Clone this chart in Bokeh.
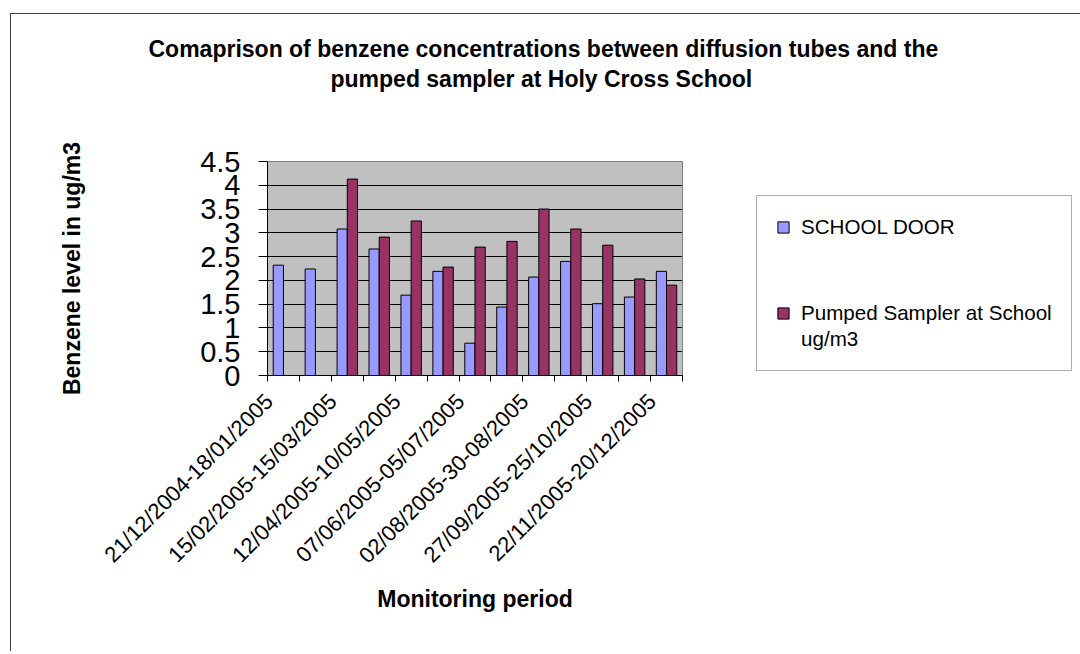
import math
from bokeh.plotting import figure
from bokeh.models import (Range1d, FixedTicker, ColumnDataSource, Title, Legend,
                          LegendItem, LinearAxis)
from bokeh.embed import file_html
from bokeh.resources import INLINE

# ---- data ----
periods = [
    "21/12/2004-18/01/2005", "18/01/2005-15/02/2005", "15/02/2005-15/03/2005",
    "15/03/2005-12/04/2005", "12/04/2005-10/05/2005", "10/05/2005-07/06/2005",
    "07/06/2005-05/07/2005", "05/07/2005-02/08/2005", "02/08/2005-30-08/2005",
    "30/08/2005-27/09/2005", "27/09/2005-25/10/2005", "25/10/2005-22/11/2005",
    "22/11/2005-20/12/2005",
]
school_door = [2.32, 2.24, 3.08, 2.66, 1.69, 2.19, 0.68, 1.44, 2.07, 2.40, 1.51, 1.65, 2.19]
pumped = [None, None, 4.13, 2.91, 3.25, 2.28, 2.70, 2.82, 3.50, 3.08, 2.74, 2.03, 1.90]
y_ticks = [0, 0.5, 1, 1.5, 2, 2.5, 3, 3.5, 4, 4.5]
y_tick_labels = ["0", "0.5", "1", "1.5", "2", "2.5", "3", "3.5", "4", "4.5"]
series_names = ["SCHOOL DOOR", "Pumped Sampler at School", "ug/m3"]
title_lines = ["Comaprison of benzene concentrations between diffusion tubes and the",
               "pumped sampler at Holy Cross School"]

FONT = "Liberation Sans"
BLUE = "#9999FF"
RED = "#993366"

# canvas origin on the page (after margin + 1px border)
OX, OY = 11, 14
# frame position on the page
FL, FR, FT, FB = 267, 682, 161, 375

p = figure(frame_width=FR - FL, frame_height=FB - FT,
           output_backend="svg", toolbar_location=None,
           x_range=Range1d(0.5, len(periods) + 0.5), y_range=Range1d(0, 4.5),
           min_border_left=FL - OX, min_border_right=396,
           min_border_top=FT - OY, min_border_bottom=276)
p.margin = (OY - 1, 0, 0, OX - 1)
p.styles = {"border-left": "1px solid #404040", "border-top": "1px solid #404040"}
p.background_fill_color = "#C0C0C0"
p.border_fill_color = "white"
p.outline_line_color = "#808080"
p.outline_line_width = 1
p.xgrid.grid_line_color = None
p.ygrid.grid_line_color = "black"
p.ygrid.grid_line_width = 1
p.ygrid.ticker = FixedTicker(ticks=y_ticks)

xs = list(range(1, len(periods) + 1))
src_a = ColumnDataSource(dict(x=[x - 0.16 for x in xs], top=school_door))
px = [x + 0.16 for x, v in zip(xs, pumped) if v is not None]
pv = [v for v in pumped if v is not None]
src_b = ColumnDataSource(dict(x=px, top=pv))
r_a = p.vbar(x="x", top="top", bottom=0, width=0.32, source=src_a,
             fill_color=BLUE, line_color="black", line_width=1)
r_b = p.vbar(x="x", top="top", bottom=0, width=0.32, source=src_b,
             fill_color=RED, line_color="black", line_width=1)

# y axis
ya = p.yaxis[0]
ya.ticker = FixedTicker(ticks=y_ticks)
ya.major_label_overrides = {t: l for t, l in zip(y_ticks, y_tick_labels)}
ya.major_label_text_font = FONT
ya.major_label_text_font_size = "29px"
ya.major_label_text_color = "black"
ya.major_label_standoff = 18
ya.major_tick_out = 9
ya.major_tick_in = 0
ya.minor_tick_line_color = None
ya.axis_line_color = "black"
ya.major_tick_line_color = "black"
ya.axis_label = "Benzene level in ug/m3"
ya.axis_label_text_font = FONT
ya.axis_label_text_font_style = "bold"
ya.axis_label_text_font_size = "23px"
ya.axis_label_text_color = "black"
ya.axis_label_standoff = 112

# x axis: labels on every other category, ticks at category boundaries
LABEL_SHIFT = -0.45
xa = p.xaxis[0]
shown = xs[::2]
label_pos = [x + LABEL_SHIFT for x in shown]
xa.ticker = FixedTicker(ticks=label_pos,
                        minor_ticks=[x - 0.5 for x in xs] + [xs[-1] + 0.5])
xa.major_label_overrides = {lp: periods[x - 1] for lp, x in zip(label_pos, shown)}
xa.major_label_orientation = math.pi / 4
xa.major_label_text_font = FONT
xa.major_label_text_font_size = "22px"
xa.major_label_text_color = "black"
xa.major_tick_line_color = None
xa.major_tick_out = 0
xa.major_tick_in = 0
xa.major_label_standoff = 16
xa.minor_tick_line_color = "black"
xa.minor_tick_out = 6
xa.minor_tick_in = 0
xa.axis_line_color = "black"
xa.axis_label = "Monitoring period"
xa.axis_label_text_font = FONT
xa.axis_label_text_font_style = "bold"
xa.axis_label_text_font_size = "23px"
xa.axis_label_text_color = "black"
xa.axis_label_standoff = 6

# title: an invisible spacer axis next to the frame, then line 2, then line 1
p.title.text = ""
mid = (len(periods) + 1) / 2
spacer = LinearAxis(ticker=FixedTicker(ticks=[mid]), axis_line_color=None,
                    major_tick_line_color=None, minor_tick_line_color=None,
                    major_tick_out=70, major_tick_in=0, minor_tick_out=0,
                    major_label_standoff=0, major_label_overrides={mid: ""},
                    major_label_text_font_size="1px")
p.add_layout(spacer, "above")
p.add_layout(Title(text=title_lines[1], align="left", offset=63, standoff=0,
                   text_font=FONT, text_font_size="23px", text_font_style="bold",
                   text_color="black"), "above")
p.add_layout(Title(text=title_lines[0], align="left", offset=-119, standoff=4,
                   text_font=FONT, text_font_size="23px", text_font_style="bold",
                   text_color="black"), "above")

# legend (blank rows reproduce the tall gap between the two entries)
items = [
    LegendItem(label=series_names[0], renderers=[r_a]),
    LegendItem(label=" ", renderers=[]),
    LegendItem(label=" ", renderers=[]),
    LegendItem(label=" ", renderers=[]),
    LegendItem(label=series_names[1], renderers=[r_b]),
    LegendItem(label=series_names[2], renderers=[]),
]
legend = Legend(items=items, location=(74, 4), orientation="vertical",
                padding=19, spacing=2, glyph_width=14, glyph_height=14,
                label_height=18, label_width=251, label_standoff=11,
                label_text_font=FONT, label_text_font_size="20.6px",
                label_text_color="black", border_line_color="#606060",
                border_line_width=1, background_fill_color="white",
                background_fill_alpha=1, margin=0)
p.add_layout(legend, "right")

open("out.html", "w").write(file_html(p, INLINE))
